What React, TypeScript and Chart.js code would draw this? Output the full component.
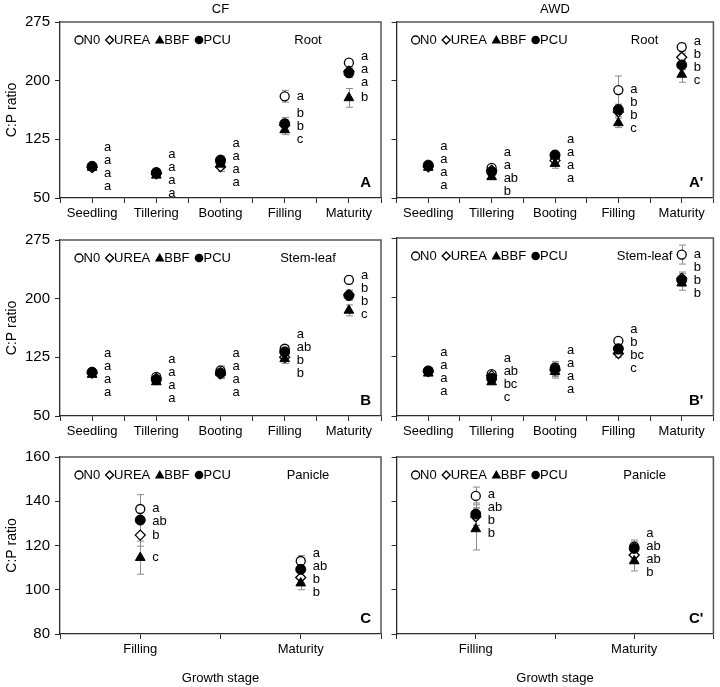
import React, { useEffect, useRef } from 'react';
import { Chart, registerables } from 'chart.js';

Chart.register(...registerables);

const FONT = '"Liberation Sans", Arial, Helvetica, sans-serif';

// ---------- categories / labels ----------
const STAGES_ALL = ['Seedling', 'Tillering', 'Booting', 'Filling', 'Maturity'];
const STAGES_PANICLE = ['Filling', 'Maturity'];
const TREATMENTS = ['N0', 'UREA', 'BBF', 'PCU'];
const Y_TICKS_ORGAN = [50, 125, 200, 275];
const Y_TICKS_PANICLE = [80, 100, 120, 140, 160];

// ---------- CF, Root (A) ----------
const cfRootN0 = [90, 83, 96, 180, 223];
const cfRootUREA = [89, 81, 90, 143, 212];
const cfRootBBF = [89, 79, 93, 137, 178];
const cfRootPCU = [90.5, 82, 98.5, 145, 210];
const cfRootN0Sd = [3, 3, 5, 7.5, 4];
const cfRootUREASd = [3, 3, 6, 7, 5];
const cfRootBBFSd = [3, 3, 6, 6, 12];
const cfRootPCUSd = [3, 3, 5, 8, 6];
const cfRootN0Sig = ['a', 'a', 'a', 'a', 'a'];
const cfRootUREASig = ['a', 'a', 'a', 'b', 'a'];
const cfRootBBFSig = ['a', 'a', 'a', 'c', 'b'];
const cfRootPCUSig = ['a', 'a', 'a', 'b', 'a'];

// ---------- AWD, Root (A') ----------
const awdRootN0 = [91, 88.5, 103, 188, 243];
const awdRootUREA = [90, 85.5, 98, 160, 230];
const awdRootBBF = [89, 77, 94, 146, 208];
const awdRootPCU = [92, 83.5, 105, 163, 220];
const awdRootN0Sd = [3, 3, 5, 18, 5];
const awdRootUREASd = [3, 3, 5, 6, 5];
const awdRootBBFSd = [3, 3, 6, 6, 10];
const awdRootPCUSd = [3, 4, 5, 6, 6];
const awdRootN0Sig = ['a', 'a', 'a', 'a', 'a'];
const awdRootUREASig = ['a', 'a', 'a', 'b', 'b'];
const awdRootBBFSig = ['a', 'b', 'a', 'c', 'c'];
const awdRootPCUSig = ['a', 'ab', 'a', 'b', 'b'];

// ---------- CF, Stem-leaf (B) ----------
const cfStemN0 = [106, 100, 108, 136, 224];
const cfStemUREA = [105, 98, 104, 125, 205];
const cfStemBBF = [103, 93.5, 105, 123, 185];
const cfStemPCU = [106, 96.5, 105, 132, 204];
const cfStemN0Sd = [3, 3, 6, 4, 5];
const cfStemUREASd = [3, 3, 6, 5, 6];
const cfStemBBFSd = [3, 3, 6, 6, 7];
const cfStemPCUSd = [3, 3, 6, 5, 6];
const cfStemN0Sig = ['a', 'a', 'a', 'a', 'a'];
const cfStemUREASig = ['a', 'a', 'a', 'b', 'b'];
const cfStemBBFSig = ['a', 'a', 'a', 'b', 'c'];
const cfStemPCUSig = ['a', 'a', 'a', 'ab', 'b'];

// ---------- AWD, Stem-leaf (B') ----------
const awdStemN0 = [107, 103, 111, 145, 254];
const awdStemUREA = [106, 101, 108, 129, 224];
const awdStemBBF = [104, 93, 106, 132, 218];
const awdStemPCU = [107, 97.5, 109, 135, 222];
const awdStemN0Sd = [3, 3, 8, 4, 12];
const awdStemUREASd = [3, 3, 8, 5, 8];
const awdStemBBFSd = [3, 3, 8, 5, 9];
const awdStemPCUSd = [3, 3, 8, 5, 8];
const awdStemN0Sig = ['a', 'a', 'a', 'a', 'a'];
const awdStemUREASig = ['a', 'ab', 'a', 'c', 'b'];
const awdStemBBFSig = ['a', 'c', 'a', 'bc', 'b'];
const awdStemPCUSig = ['a', 'bc', 'a', 'b', 'b'];

// ---------- CF, Panicle (C) ----------
const cfPanN0 = [136.5, 113];
const cfPanUREA = [124.7, 105.5];
const cfPanBBF = [114.5, 103];
const cfPanPCU = [131.5, 109.2];
const cfPanN0Sd = [6.5, 2.5];
const cfPanUREASd = [5, 2.5];
const cfPanBBFSd = [7.5, 3];
const cfPanPCUSd = [6, 3];
const cfPanN0Sig = ['a', 'a'];
const cfPanUREASig = ['b', 'b'];
const cfPanBBFSig = ['c', 'b'];
const cfPanPCUSig = ['ab', 'ab'];

// ---------- AWD, Panicle (C') ----------
const awdPanN0 = [142.4, 119.5];
const awdPanUREA = [133, 115.7];
const awdPanBBF = [127.5, 113];
const awdPanPCU = [134.2, 118.7];
const awdPanN0Sd = [4, 3];
const awdPanUREASd = [4, 3];
const awdPanBBFSd = [9.5, 4.5];
const awdPanPCUSd = [5, 3];
const awdPanN0Sig = ['a', 'a'];
const awdPanUREASig = ['b', 'ab'];
const awdPanBBFSig = ['b', 'b'];
const awdPanPCUSig = ['ab', 'ab'];

type PanelCfg = {
  key: string;
  panelLabel: string;
  organ: string;
  column?: string;
  stages: string[];
  yMin: number;
  yMax: number;
  yTicks: number[];
  values: number[][];
  sds: number[][];
  sig: string[][];
  isLeft: boolean;
  row: number;
  xTitle?: string;
};

const COLS = [
  { left: 0, width: 390, yAxisW: 60, padRight: 9 },
  { left: 390, width: 330, yAxisW: 6, padRight: 3 },
];
const ROWS = [
  { top: 0, height: 226, padTop: 22, xAxisH: 28 },
  { top: 226, height: 217, padTop: 12, xAxisH: 27 },
  { top: 443, height: 244, padTop: 14, xAxisH: 53 },
];

const PANELS: PanelCfg[] = [
  {
    key: 'A', panelLabel: 'A', organ: 'Root', column: 'CF', stages: STAGES_ALL,
    yMin: 50, yMax: 275, yTicks: Y_TICKS_ORGAN,
    values: [cfRootN0, cfRootUREA, cfRootBBF, cfRootPCU],
    sds: [cfRootN0Sd, cfRootUREASd, cfRootBBFSd, cfRootPCUSd],
    sig: [cfRootN0Sig, cfRootUREASig, cfRootBBFSig, cfRootPCUSig],
    isLeft: true, row: 0,
  },
  {
    key: "A'", panelLabel: "A'", organ: 'Root', column: 'AWD', stages: STAGES_ALL,
    yMin: 50, yMax: 275, yTicks: Y_TICKS_ORGAN,
    values: [awdRootN0, awdRootUREA, awdRootBBF, awdRootPCU],
    sds: [awdRootN0Sd, awdRootUREASd, awdRootBBFSd, awdRootPCUSd],
    sig: [awdRootN0Sig, awdRootUREASig, awdRootBBFSig, awdRootPCUSig],
    isLeft: false, row: 0,
  },
  {
    key: 'B', panelLabel: 'B', organ: 'Stem-leaf', stages: STAGES_ALL,
    yMin: 50, yMax: 275, yTicks: Y_TICKS_ORGAN,
    values: [cfStemN0, cfStemUREA, cfStemBBF, cfStemPCU],
    sds: [cfStemN0Sd, cfStemUREASd, cfStemBBFSd, cfStemPCUSd],
    sig: [cfStemN0Sig, cfStemUREASig, cfStemBBFSig, cfStemPCUSig],
    isLeft: true, row: 1,
  },
  {
    key: "B'", panelLabel: "B'", organ: 'Stem-leaf', stages: STAGES_ALL,
    yMin: 50, yMax: 275, yTicks: Y_TICKS_ORGAN,
    values: [awdStemN0, awdStemUREA, awdStemBBF, awdStemPCU],
    sds: [awdStemN0Sd, awdStemUREASd, awdStemBBFSd, awdStemPCUSd],
    sig: [awdStemN0Sig, awdStemUREASig, awdStemBBFSig, awdStemPCUSig],
    isLeft: false, row: 1,
  },
  {
    key: 'C', panelLabel: 'C', organ: 'Panicle', stages: STAGES_PANICLE,
    yMin: 80, yMax: 160, yTicks: Y_TICKS_PANICLE,
    values: [cfPanN0, cfPanUREA, cfPanBBF, cfPanPCU],
    sds: [cfPanN0Sd, cfPanUREASd, cfPanBBFSd, cfPanPCUSd],
    sig: [cfPanN0Sig, cfPanUREASig, cfPanBBFSig, cfPanPCUSig],
    isLeft: true, row: 2, xTitle: 'Growth stage',
  },
  {
    key: "C'", panelLabel: "C'", organ: 'Panicle', stages: STAGES_PANICLE,
    yMin: 80, yMax: 160, yTicks: Y_TICKS_PANICLE,
    values: [awdPanN0, awdPanUREA, awdPanBBF, awdPanPCU],
    sds: [awdPanN0Sd, awdPanUREASd, awdPanBBFSd, awdPanPCUSd],
    sig: [awdPanN0Sig, awdPanUREASig, awdPanBBFSig, awdPanPCUSig],
    isLeft: false, row: 2, xTitle: 'Growth stage',
  },
];

const SERIES_STYLE = [
  { pointStyle: 'circle', radius: 4.5, bg: '#ffffff', border: '#000000', bw: 1.3, order: 3 },
  { pointStyle: 'rectRot', radius: 5, bg: '#ffffff', border: '#000000', bw: 1.3, order: 2 },
  { pointStyle: 'triangle', radius: 5.6, bg: '#000000', border: '#000000', bw: 1, order: 1 },
  { pointStyle: 'circle', radius: 5, bg: '#000000', border: '#000000', bw: 1, order: 0 },
];

const AXIS_COLOR = '#2b2b2b';
const FRAME_COLOR = '#555555';
const ERR_COLOR = '#8c8c8c';
const LETTER_SPACING = 13;

function drawLegendMarker(ctx: CanvasRenderingContext2D, kind: number, cx: number, cy: number) {
  ctx.save();
  ctx.lineWidth = 1.3;
  ctx.strokeStyle = '#000';
  ctx.beginPath();
  if (kind === 0) {
    ctx.arc(cx, cy, 4, 0, Math.PI * 2);
    ctx.fillStyle = '#fff';
    ctx.fill();
    ctx.stroke();
  } else if (kind === 1) {
    ctx.moveTo(cx, cy - 4);
    ctx.lineTo(cx + 4, cy);
    ctx.lineTo(cx, cy + 4);
    ctx.lineTo(cx - 4, cy);
    ctx.closePath();
    ctx.fillStyle = '#fff';
    ctx.fill();
    ctx.stroke();
  } else if (kind === 2) {
    ctx.moveTo(cx, cy - 5);
    ctx.lineTo(cx + 4.8, cy + 3.6);
    ctx.lineTo(cx - 4.8, cy + 3.6);
    ctx.closePath();
    ctx.fillStyle = '#000';
    ctx.fill();
  } else {
    ctx.arc(cx, cy, 4.3, 0, Math.PI * 2);
    ctx.fillStyle = '#000';
    ctx.fill();
  }
  ctx.restore();
}

function placeLabels(pys: number[], S: number): number[] {
  let clusters = pys.map((p) => ({ members: [p], center: p }));
  let changed = true;
  while (changed) {
    changed = false;
    for (let i = 1; i < clusters.length; i++) {
      const a = clusters[i - 1];
      const b = clusters[i];
      const aBottom = a.center + ((a.members.length - 1) / 2) * S;
      const bTop = b.center - ((b.members.length - 1) / 2) * S;
      if (bTop - aBottom < S) {
        const members = [...a.members, ...b.members];
        const center = members.reduce((s, v) => s + v, 0) / members.length;
        clusters.splice(i - 1, 2, { members, center });
        changed = true;
        break;
      }
    }
  }
  const out: number[] = [];
  clusters.forEach((c) =>
    c.members.forEach((_, k) => out.push(c.center - ((c.members.length - 1) / 2) * S + k * S))
  );
  return out;
}

function PanelChart({ cfg }: { cfg: PanelCfg }) {
  const ref = useRef<HTMLCanvasElement | null>(null);
  const col = COLS[cfg.isLeft ? 0 : 1];
  const row = ROWS[cfg.row];

  useEffect(() => {
    if (!ref.current) return;
    const n = cfg.stages.length;
    const xTickVals: number[] = [];
    for (let k = 0; k <= 2 * n; k++) xTickVals.push(k / 2 - 0.5);

    const datasets = cfg.values.map((series, i) => {
      const st = SERIES_STYLE[i];
      return {
        label: TREATMENTS[i],
        data: series.map((v, j) => ({ x: j, y: v })),
        pointStyle: st.pointStyle as any,
        pointRadius: st.radius,
        pointBackgroundColor: st.bg,
        pointBorderColor: st.border,
        pointBorderWidth: st.bw,
        showLine: false,
        order: st.order,
      };
    });

    const decorPlugin = {
      id: 'decor' + cfg.key,
      beforeDatasetsDraw(chart: any) {
        const { ctx, scales } = chart;
        const x = scales.x;
        const y = scales.y;
        ctx.save();
        ctx.strokeStyle = ERR_COLOR;
        ctx.lineWidth = 1;
        cfg.values.forEach((series, i) =>
          series.forEach((v, j) => {
            const sd = cfg.sds[i][j];
            const px = Math.round(x.getPixelForValue(j)) + 0.5;
            const y1 = y.getPixelForValue(v + sd);
            const y2 = y.getPixelForValue(v - sd);
            ctx.beginPath();
            ctx.moveTo(px, y1);
            ctx.lineTo(px, y2);
            ctx.moveTo(px - 3.5, y1);
            ctx.lineTo(px + 3.5, y1);
            ctx.moveTo(px - 3.5, y2);
            ctx.lineTo(px + 3.5, y2);
            ctx.stroke();
          })
        );
        ctx.restore();
      },
      afterDraw(chart: any) {
        const { ctx, chartArea, scales } = chart;
        const { left, right, top, bottom } = chartArea;
        const x = scales.x;
        const y = scales.y;
        ctx.save();
        // frame (top / right)
        ctx.strokeStyle = FRAME_COLOR;
        ctx.lineWidth = 1.5;
        ctx.beginPath();
        ctx.moveTo(left, top);
        ctx.lineTo(right, top);
        ctx.lineTo(right, bottom);
        ctx.stroke();

        ctx.fillStyle = '#000';
        ctx.font = `13px ${FONT}`;
        ctx.textBaseline = 'middle';

        // legend
        const ly = top + 18;
        let lx = left + 15;
        TREATMENTS.forEach((t, i) => {
          drawLegendMarker(ctx, i, lx + 4, ly);
          ctx.fillStyle = '#000';
          ctx.textAlign = 'left';
          ctx.fillText(t, lx + 8.5, ly);
          lx += 8.5 + ctx.measureText(t).width + 5.5;
        });

        // organ label
        ctx.textAlign = 'center';
        ctx.fillText(cfg.organ, left + 248, ly);

        // column title
        if (cfg.column) {
          ctx.fillText(cfg.column, (left + right) / 2, 9);
        }

        // significance letters
        ctx.textAlign = 'left';
        cfg.stages.forEach((_, j) => {
          const items = cfg.values.map((s, i) => ({ py: y.getPixelForValue(s[j]), letter: cfg.sig[i][j] }));
          items.sort((a, b) => a.py - b.py);
          const ys = placeLabels(items.map((it) => it.py), LETTER_SPACING);
          const px = x.getPixelForValue(j) + 12;
          items.forEach((it, k) => ctx.fillText(it.letter, px, ys[k]));
        });

        // panel label
        ctx.font = `bold 15px ${FONT}`;
        ctx.textAlign = 'right';
        ctx.textBaseline = 'alphabetic';
        ctx.fillText(cfg.panelLabel, right - 10, bottom - 11);
        ctx.restore();
      },
    };

    const chart = new Chart(ref.current, {
      type: 'scatter',
      data: { datasets },
      options: {
        animation: false,
        responsive: false,
        devicePixelRatio: 1,
        events: [],
        layout: { padding: { top: row.padTop, right: col.padRight, left: 0, bottom: 0 } },
        plugins: { legend: { display: false }, tooltip: { enabled: false } },
        scales: {
          x: {
            type: 'linear',
            min: -0.5,
            max: n - 0.5,
            afterBuildTicks: (s: any) => {
              s.ticks = xTickVals.map((v) => ({ value: v }));
            },
            afterFit: (s: any) => {
              s.height = row.xAxisH;
            },
            ticks: {
              autoSkip: false,
              maxRotation: 0,
              minRotation: 0,
              padding: 3,
              color: '#000',
              font: { family: FONT, size: 13 },
              callback: (v: any) => (Number.isInteger(v) ? cfg.stages[v] : ''),
            },
            grid: { drawOnChartArea: false, tickLength: 5, color: AXIS_COLOR, lineWidth: 1 },
            border: { color: AXIS_COLOR, width: 1.3 },
            title: cfg.xTitle
              ? {
                  display: true,
                  text: cfg.xTitle,
                  color: '#000',
                  font: { family: FONT, size: 13 },
                  padding: { top: 4, bottom: 1 },
                }
              : { display: false },
          },
          y: {
            type: 'linear',
            min: cfg.yMin,
            max: cfg.yMax,
            afterBuildTicks: (s: any) => {
              s.ticks = cfg.yTicks.map((v) => ({ value: v }));
            },
            afterFit: (s: any) => {
              s.width = col.yAxisW;
            },
            ticks: {
              display: cfg.isLeft,
              padding: 5,
              color: '#000',
              font: { family: FONT, size: 15 },
            },
            grid: { drawOnChartArea: false, tickLength: 5, color: AXIS_COLOR, lineWidth: 1 },
            border: { color: AXIS_COLOR, width: 1.3 },
            title: cfg.isLeft
              ? {
                  display: true,
                  text: 'C:P ratio',
                  color: '#000',
                  font: { family: FONT, size: 14 },
                  padding: { top: 4, bottom: 0 },
                }
              : { display: false },
          },
        },
      },
      plugins: [decorPlugin],
    } as any);
    return () => chart.destroy();
  }, [cfg]);

  return (
    <canvas
      ref={ref}
      width={col.width}
      height={row.height}
      style={{
        position: 'absolute',
        left: col.left,
        top: row.top,
        width: col.width,
        height: row.height,
      }}
    />
  );
}

export default function App() {
  return (
    <div
      style={{
        position: 'absolute',
        left: 0,
        top: 0,
        width: 720,
        height: 687,
        background: '#ffffff',
        overflow: 'hidden',
      }}
    >
      {PANELS.map((p) => (
        <PanelChart key={p.key} cfg={p} />
      ))}
    </div>
  );
}
